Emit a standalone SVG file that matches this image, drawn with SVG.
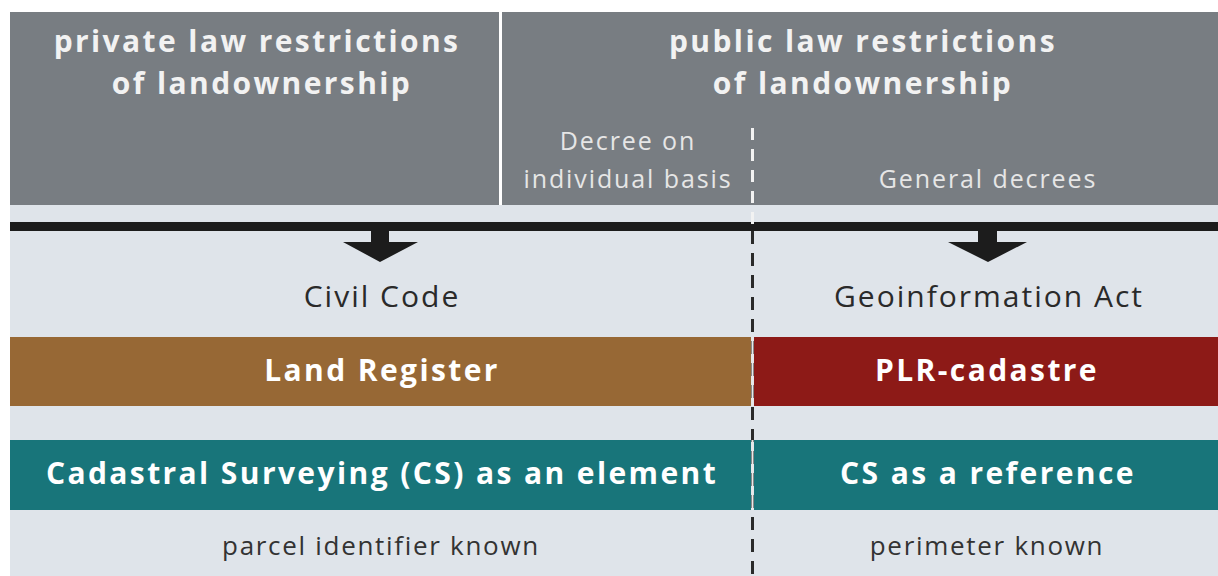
<svg xmlns="http://www.w3.org/2000/svg" width="1218" height="576" viewBox="0 0 1218 576">
<style>
.hd{font-family:"Open Sans","Noto Sans",sans-serif;font-weight:bold;font-size:30px;fill:#f2f2f2;text-anchor:middle;letter-spacing:2.4px}
.sub{font-family:"Open Sans","Noto Sans",sans-serif;font-size:25px;fill:#e6e6e6;text-anchor:middle;letter-spacing:1.9px}
.law{font-family:"Open Sans","Noto Sans",sans-serif;font-size:30px;fill:#2a2a2a;text-anchor:middle;letter-spacing:2px}
.bar{font-family:"Open Sans","Noto Sans",sans-serif;font-weight:bold;font-size:30px;fill:#ffffff;text-anchor:middle;letter-spacing:2.4px}
.note{font-family:"Open Sans","Noto Sans",sans-serif;font-size:26px;fill:#333333;text-anchor:middle;letter-spacing:1.7px}
</style>
<rect x="0" y="0" width="1218" height="576" fill="#ffffff"/>
<rect x="10" y="205" width="1208" height="371" fill="#dfe4ea"/>
<g id="private-header">
<rect x="10" y="12" width="489" height="193" fill="#787d82"/>
<text class="hd" x="257" y="52">private law restrictions</text>
<text class="hd" x="262" y="94">of landownership</text>
</g>
<g id="public-header">
<rect x="502" y="12" width="716" height="193" fill="#787d82"/>
<text class="hd" x="863" y="52">public law restrictions</text>
<text class="hd" x="863" y="94">of landownership</text>
<text class="sub" x="628" y="150">Decree on</text>
<text class="sub" x="628" y="188">individual basis</text>
<text class="sub" x="988" y="188">General decrees</text>
</g>
<g id="civil-code"><text class="law" x="382" y="307">Civil Code</text></g>
<g id="geoinformation-act"><text class="law" x="989" y="307">Geoinformation Act</text></g>
<g id="land-register">
<rect x="10" y="337" width="741" height="69" fill="#976835"/>
<text class="bar" x="382" y="381">Land Register</text>
</g>
<g id="plr-cadastre">
<rect x="754" y="337" width="464" height="69" fill="#8d1a17"/>
<text class="bar" x="987" y="381">PLR-cadastre</text>
</g>
<g id="cs-element">
<rect x="10" y="440" width="741" height="70" fill="#18757a"/>
<text class="bar" x="382" y="484">Cadastral Surveying (CS) as an element</text>
</g>
<g id="cs-reference">
<rect x="754" y="440" width="464" height="70" fill="#18757a"/>
<text class="bar" x="988" y="484">CS as a reference</text>
</g>
<g id="parcel-known"><text class="note" x="381" y="555">parcel identifier known</text></g>
<g id="perimeter-known"><text class="note" x="987" y="555">perimeter known</text></g>
<g id="connectors">
<rect x="10" y="222" width="1208" height="9" fill="#1c1c1c"/>
<path d="M371 231 H389 V242 H418 L380 262 L343 242 H371 Z" fill="#1c1c1c"/>
<path d="M978 231 H997 V242 H1027 L988 262 L948 242 H978 Z" fill="#1c1c1c"/>
<line x1="752.5" y1="128" x2="752.5" y2="231" stroke="#f2f2f2" stroke-width="3" stroke-dasharray="12 9"/>
<line x1="752.5" y1="231" x2="752.5" y2="576" stroke="#2a2a2a" stroke-width="3" stroke-dasharray="13 9"/>
<line x1="752.5" y1="337" x2="752.5" y2="406" stroke="#e8e8e8" stroke-width="2"/>
<line x1="752.5" y1="440" x2="752.5" y2="510" stroke="#e8e8e8" stroke-width="2"/>
</g>
</svg>
